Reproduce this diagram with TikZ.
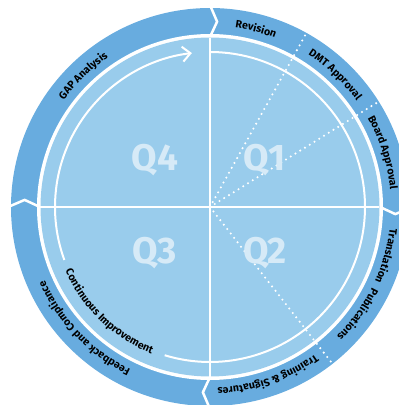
\documentclass[tikz,border=0pt]{standalone}
\usepackage{fontspec}
\setmainfont{Fira Sans}
\usetikzlibrary{decorations.text,arrows.meta}

\definecolor{ringblue}{RGB}{104,172,223}
\definecolor{diskblue}{RGB}{153,204,236}
\definecolor{quartertext}{RGB}{214,234,247}
\newcommand{\ringfont}{\bfseries\fontsize{10.6}{12}\selectfont}

\begin{document}
\begin{tikzpicture}
[x=1pt,y=1pt,
  chevronDecorate/.style={draw=white,line width=2.5pt},%
  lineDecorate/.style={draw=white,line width=2pt},%
  dotDecorate/.style={draw=white,line width=2.3pt,line cap=round,dash pattern=on 0pt off 5.6pt},%
  quarterDecorate/.style={text=quartertext,font=\bfseries\fontsize{37}{40}\selectfont},%
  ringText/.style={decorate,decoration={text along path,text align=center,text={|\ringfont|#1}}}]
\useasboundingbox (-210,-198) rectangle (189,207);
\clip (-210,-198) rectangle (189,207);
\coordinate (c) at (0,0);
%% outer ring with the four turns
\fill[ringblue] (c) circle[radius=199];
\foreach \a in {90,0,-90,180}
{
  \draw[chevronDecorate] (\a:170) -- (\a-2.2:185.5) -- (\a:202);
}
\fill[white] (c) circle[radius=173];
\fill[diskblue] (c) circle[radius=169.5];
%% cross
\foreach \name/\a in {e/0, n/90, w/180, s/-90}
{
  \coordinate (\name) at (\a:169.5);
}
\draw[lineDecorate] (w) -- (e);
\draw[lineDecorate] (n) -- (s);
%% inner circle and arrow
\draw[lineDecorate] (90:155) arc[start angle=90,end angle=-107,radius=155];
\draw[lineDecorate,-{Straight Barb[length=8pt,width=15pt]}]
  (-160:155) arc[start angle=-160,end angle=-263.3,radius=155];
%% dotted steps
\foreach \name/\a in {d1/61, d2/32, d3/-52}
{
  \coordinate (\name) at (\a:199);
  \draw[dotDecorate] (c) -- (\name);
}
%% quarters
\foreach \name/\x/\y in {Q1/55/47, Q2/55/-46, Q3/-55/-46, Q4/-55/47}
{
  \node (\name) at (\x,\y) [quarterDecorate] {\name};
}
%% labels on the ring
\foreach \m/\labeltext in {75.5/Revision, 46.5/DMT Approval, 17.5/Board Approval,
  -15.5/Translation, -36/Publications, -71/Training {\&} Signatures,
  -136/Feedback and Compliance, 134/GAP Analysis}
{
  \path[ringText/.expanded={\labeltext}]
    (\m+30:181) arc[start angle=\m+30,end angle=\m-30,radius=181];
}
\path[ringText={Continuous Improvement}]
  (-170:158) arc[start angle=-170,end angle=-98,radius=158];
\end{tikzpicture}
\end{document}
